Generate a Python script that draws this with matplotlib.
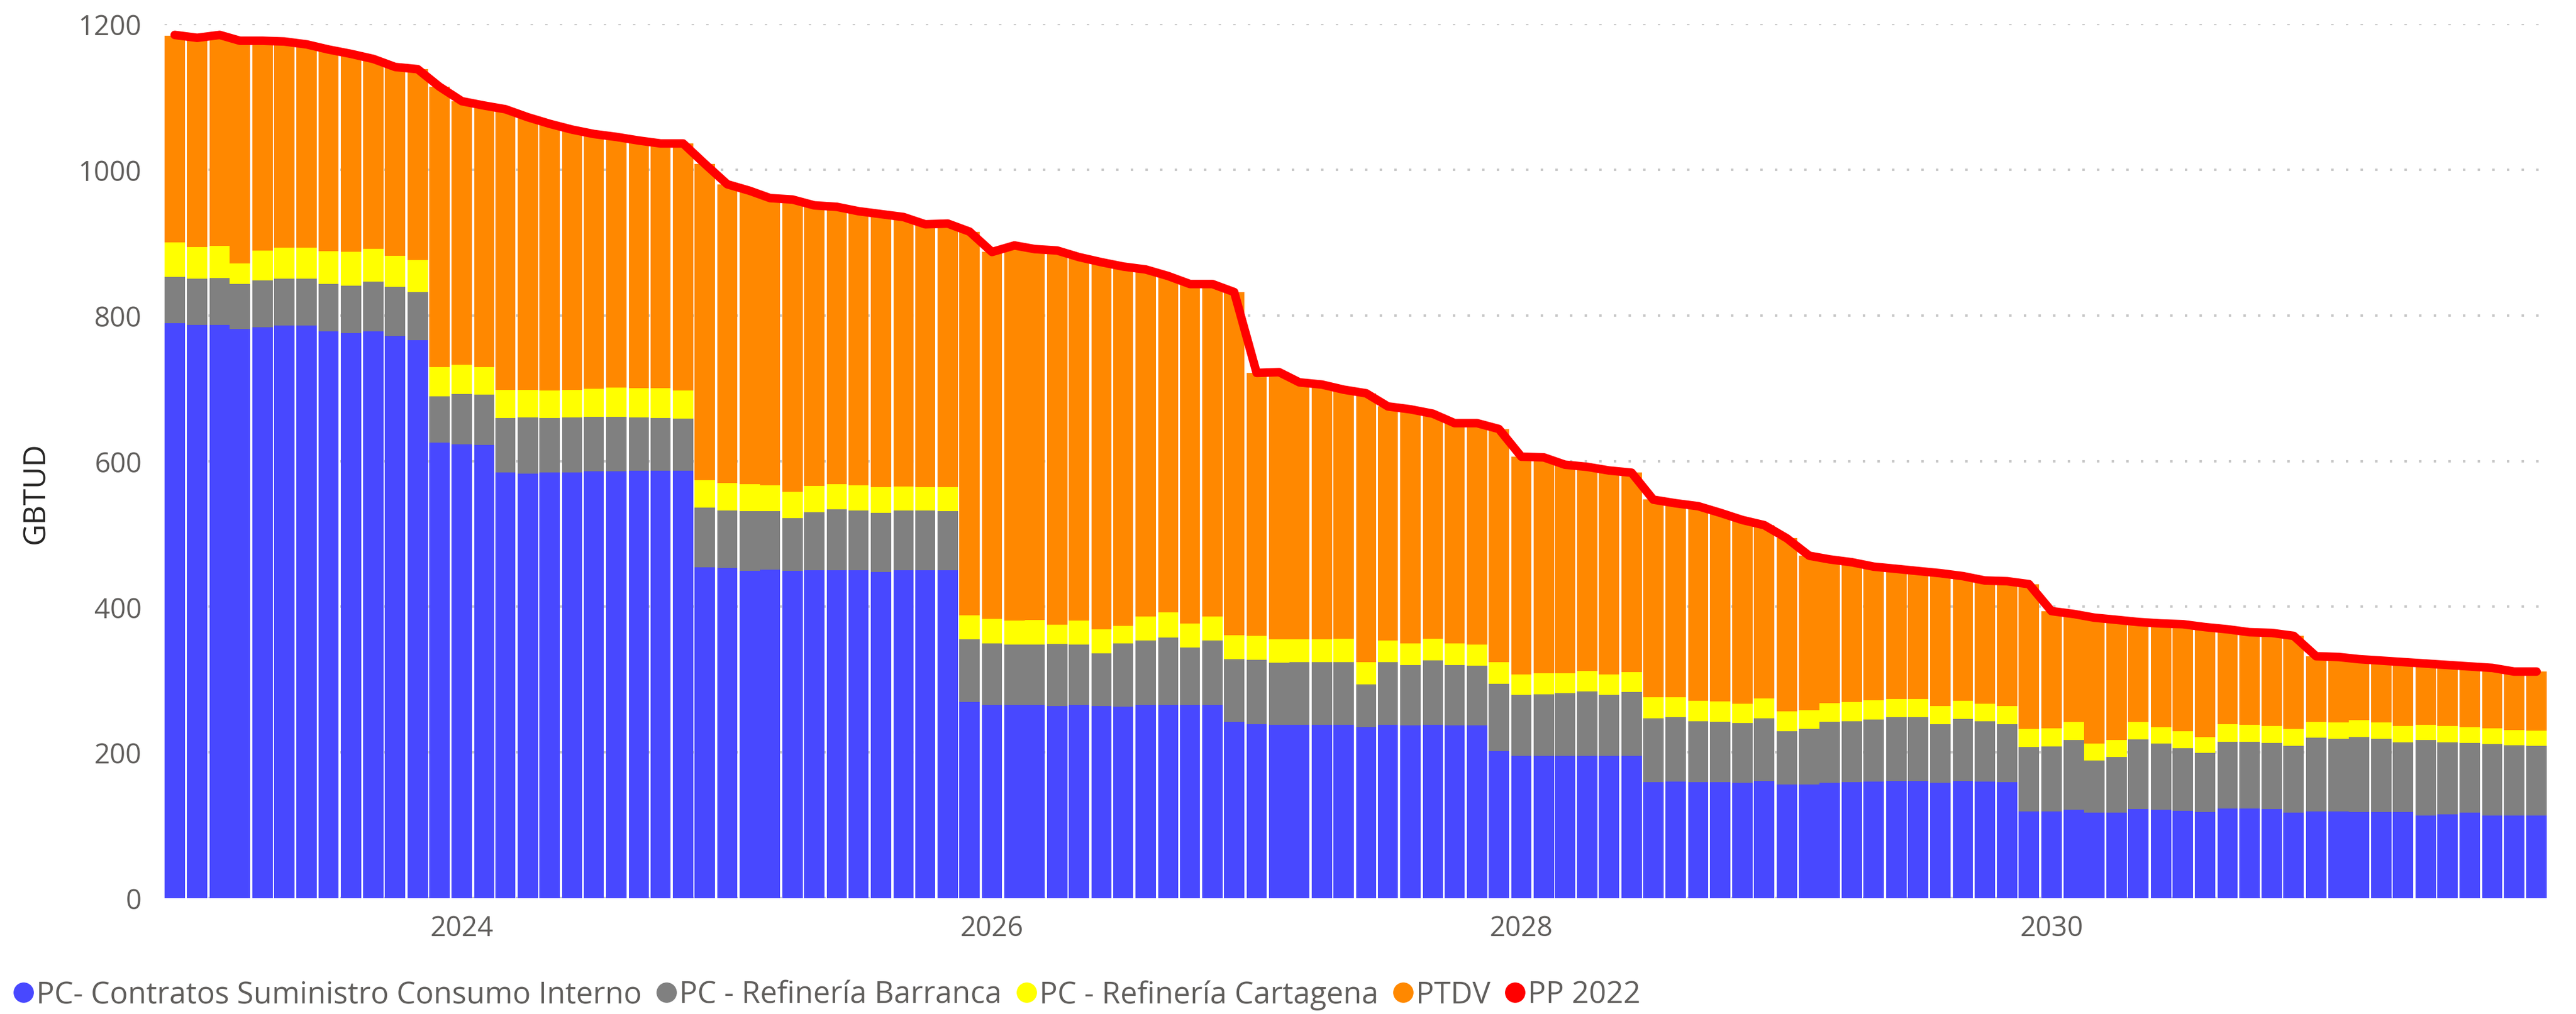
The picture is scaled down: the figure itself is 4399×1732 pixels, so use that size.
import matplotlib.pyplot as plt
from matplotlib.lines import Line2D
import numpy as np
import pandas as pd

plt.rcParams['font.family'] = ['Open Sans', 'DejaVu Sans']

# meses (Dic 2022 - Nov 2031)
meses = pd.date_range('2022-12-01', periods=108, freq='MS')

# PC- Contratos Suministro Consumo Interno
consumo = [789, 787, 787, 781, 784, 786, 786, 778, 776, 778, 772, 766,
           625, 623, 622, 584, 583, 584, 584, 586, 586, 587, 587, 587,
           454, 453, 449, 451, 449, 450, 450, 450, 448, 450, 450, 450,
           269, 265, 265, 265, 264, 265, 264, 263, 265, 265, 265, 265,
           242, 239, 238, 238, 238, 238, 235, 238, 237, 238, 237, 237,
           202, 195, 195, 195, 195, 195, 195, 159, 160, 159, 159, 158,
           161, 156, 156, 158, 159, 160, 161, 161, 158, 161, 160, 159,
           119, 119, 121, 117, 117, 122, 121, 120, 118, 123, 123, 122,
           117, 119, 119, 118, 118, 118, 113, 115, 117, 113, 113, 113]

# PC - Refinería Barranca
barranca = [64, 63, 64, 62, 64, 64, 64, 65, 65, 68, 67, 66,
            64, 69, 69, 75, 77, 75, 76, 75, 75, 73, 72, 71,
            82, 79, 82, 80, 73, 80, 84, 82, 81, 82, 82, 81,
            86, 85, 83, 83, 85, 83, 72, 87, 89, 93, 79, 89,
            86, 88, 85, 86, 86, 86, 58, 86, 83, 88, 83, 82,
            92, 84, 85, 86, 89, 84, 88, 88, 88, 84, 83, 82,
            86, 73, 76, 84, 84, 85, 87, 87, 81, 85, 83, 80,
            88, 89, 96, 72, 77, 96, 91, 86, 81, 92, 92, 91,
            92, 101, 100, 103, 101, 96, 104, 99, 96, 98, 97, 96]

# PC - Refinería Cartagena
cartagena = [47, 44, 44, 28, 41, 43, 43, 45, 46, 45, 43, 44,
             40, 40, 38, 39, 38, 38, 38, 38, 40, 40, 41, 39,
             38, 38, 37, 36, 36, 36, 34, 35, 35, 33, 32, 33,
             33, 33, 33, 34, 26, 33, 33, 24, 33, 34, 33, 33,
             33, 33, 32, 31, 31, 32, 31, 30, 30, 30, 30, 29,
             30, 28, 29, 28, 28, 28, 27, 29, 28, 28, 28, 27,
             27, 27, 26, 26, 26, 27, 25, 25, 25, 25, 24, 25,
             25, 25, 25, 23, 23, 24, 23, 23, 22, 24, 23, 23,
             23, 22, 22, 23, 22, 22, 21, 22, 22, 22, 21, 21]

# PTDV
ptdv = [284, 287, 290, 306, 288, 283, 279, 277, 272, 261, 259, 262,
        385, 362, 359, 385, 374, 366, 357, 350, 344, 340, 336, 339,
        434, 410, 403, 394, 401, 385, 381, 376, 375, 370, 361, 362,
        527, 504, 515, 509, 514, 499, 504, 493, 476, 463, 466, 456,
        471, 361, 367, 353, 350, 342, 369, 321, 321, 309, 302, 304,
        320, 299, 296, 286, 280, 280, 274, 271, 266, 267, 259, 252,
        238, 238, 212, 197, 192, 183, 179, 176, 182, 171, 169, 171,
        199, 161, 148, 173, 165, 137, 142, 147, 151, 130, 127, 128,
        128, 90, 90, 85, 85, 88, 84, 84, 83, 83, 80, 81]

# PP 2022
pp2022 = [1185, 1181, 1185, 1177, 1177, 1176, 1172, 1165, 1159, 1152, 1141, 1138,
          1114, 1094, 1088, 1083, 1072, 1063, 1055, 1049, 1045, 1040, 1036, 1036,
          1008, 980, 971, 961, 959, 951, 949, 943, 939, 935, 925, 926,
          915, 887, 896, 891, 889, 880, 873, 867, 863, 854, 843, 843,
          832, 721, 722, 708, 705, 698, 693, 675, 671, 665, 652, 652,
          644, 606, 605, 595, 592, 587, 584, 547, 542, 538, 529, 519,
          512, 494, 470, 465, 461, 455, 452, 449, 446, 442, 436, 435,
          431, 394, 390, 385, 382, 379, 377, 376, 372, 369, 365, 364,
          360, 332, 331, 328, 326, 324, 322, 320, 318, 316, 311, 311]

nombres = ['PC- Contratos Suministro Consumo Interno', 'PC - Refinería Barranca',
           'PC - Refinería Cartagena', 'PTDV', 'PP 2022']
colores = ['#4848FF', '#808080', '#FFFF00', '#FF8800', '#FF0000']

W, H = 4399, 1733
fig = plt.figure(figsize=(W / 100, H / 100), dpi=100)
ax = fig.add_axes([281 / W, 1 - 1535 / H, (4349 - 281) / W, (1535 - 42) / H])

series = [consumo, barranca, cartagena, ptdv]
base = np.zeros(len(meses))
for vals, col in zip(series, colores[:4]):
    ax.bar(meses, vals, width=28, bottom=base, color=col, align='center', zorder=2)
    base = base + np.array(vals)

ax.plot(meses, pp2022, color=colores[4], lw=10.5, solid_capstyle='round',
        solid_joinstyle='round', zorder=3)

ax.set_ylim(0, 1200)
ax.set_xlim(meses[0] - pd.Timedelta(days=14), meses[-1] + pd.Timedelta(days=14))
ax.set_yticks(range(0, 1201, 200))
anios = pd.to_datetime(['2024-01-01', '2026-01-01', '2028-01-01', '2030-01-01'])
ax.set_xticks(anios)
ax.set_xticklabels(['2024', '2026', '2028', '2030'])
ax.tick_params(axis='both', length=0, labelsize=34, colors='#605E5C')
ax.tick_params(axis='y', pad=28)
ax.tick_params(axis='x', pad=20)
for s in ax.spines.values():
    s.set_visible(False)
ax.yaxis.grid(True, color='#C8C8C8', lw=3, linestyle=(0, (1, 5)))
ax.set_axisbelow(True)

fig.text(62 / W, 1 - 842 / H, 'GBTUD', rotation=90, ha='center', va='center',
         fontsize=37, color='#252423')

handles = [Line2D([], [], marker='o', linestyle='none', markersize=24,
                  markerfacecolor=c, markeredgecolor=c) for c in colores]
fig.legend(handles, nombres, loc='center left', bbox_to_anchor=(0.0, 1 - 1700 / H),
           ncol=5, frameon=False, fontsize=37, labelcolor='#605E5C',
           handletextpad=0.05, columnspacing=0.45, handlelength=0.75, borderaxespad=0)

fig.savefig('out.png', dpi=100)
